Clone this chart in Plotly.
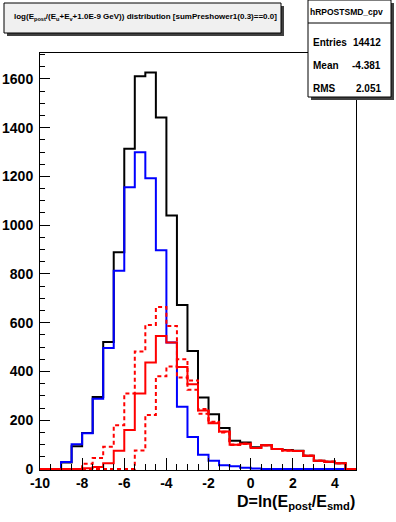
import plotly.graph_objects as go

# ---------------- data ----------------
x_low, x_high, bin_width = -10.0, 5.0, 0.5

total_black = [0, 0, 27, 93, 148, 295, 521, 889, 1313, 1611, 1626, 1442, 1040, 673, 484,
               293, 225, 168, 116, 109, 89, 98, 82, 78, 75, 54, 34, 30, 24, 0]
blue_vals = [0, 0, 29, 102, 147, 288, 496, 813, 1155, 1299, 1192, 897, 519, 255, 131,
             59, 34, 15, 11, 5, 2, 0, 0, 0, 0, 0, 0, 0, 0, 0]
red_solid = [0, 0, 0, 0, 3, 8, 24, 75, 160, 310, 437, 546, 519, 418, 348,
             240, 188, 154, 100, 104, 86, 98, 82, 76, 74, 54, 34, 30, 24, 0]
red_dash_a = [0, 0, 0, 0, 22, 45, 91, 180, 310, 482, 591, 664, 587, 375, 325,
              227, 194, 153, 100, 104, 86, 98, 82, 76, 74, 54, 34, 30, 24, 0]
red_dash_b = [0, 0, 0, 0, 0, 0, 0, 0, 0, 76, 222, 380, 420, 450, 363,
              246, 191, 150, 100, 104, 86, 98, 82, 76, 74, 54, 34, 30, 24, 0]

x_tick_vals = [-10, -8, -6, -4, -2, 0, 2, 4]
y_tick_vals = [0, 200, 400, 600, 800, 1000, 1200, 1400, 1600]

title_text = ("log(E<sub>post</sub>/(E<sub>u</sub>+E<sub>v</sub>+1.0E-9 GeV)) "
              "distribution [sumPreshower1(0.3)==0.0]")
stats_name = "hRPOSTSMD_cpv"
stats_labels = ["Entries", "Mean", "RMS"]
stats_values = ["14412", "-4.381", "2.051"]
x_title = "D=ln(E<sub>post</sub>/E<sub>smd</sub>)"

# ---------------- geometry ----------------
WIDTH, HEIGHT = 396, 522
L, R, T, B = 40, 40, 53, 52
PW, PH = WIDTH - L - R, HEIGHT - T - B
Y_MIN, Y_MAX = -4, 1706

def px_x(px):
    return (px - L) / PW

def px_y(py):
    return (HEIGHT - B - py) / PH

n_bins = len(total_black)
edges = [x_low + i * bin_width for i in range(n_bins + 1)]

def step(vals):
    return edges, list(vals) + [vals[-1]]

FONT = "Liberation Sans, Arial, Helvetica, sans-serif"

fig = go.Figure()

def add_hist(vals, color, dash=None):
    xs, ys = step(vals)
    fig.add_trace(go.Scatter(x=xs, y=ys, mode="lines", line_shape="hv",
                             line=dict(color=color, width=2, dash=dash),
                             hoverinfo="skip", showlegend=False))

add_hist(total_black, "black")
add_hist(blue_vals, "#0000ff")
add_hist(red_dash_a, "#ff0000", "4px,3px")
add_hist(red_dash_b, "#ff0000", "4px,3px")
add_hist(red_solid, "#ff0000")

fig.update_layout(
    width=WIDTH, height=HEIGHT,
    margin=dict(l=L, r=R, t=T, b=B, pad=0, autoexpand=False),
    paper_bgcolor="white", plot_bgcolor="white",
    showlegend=False,
    xaxis=dict(range=[x_low, x_high], tickmode="array", tickvals=x_tick_vals,
               ticktext=[str(v) for v in x_tick_vals], automargin=False,
               ticks="inside", ticklen=12, tickwidth=1, tickcolor="black",
               showline=True, linecolor="black", linewidth=1, mirror=True,
               showgrid=False, zeroline=False, ticklabelstandoff=0,
               tickfont=dict(family=FONT, size=14, color="black", weight="bold"),
               minor=dict(ticks="inside", ticklen=6, dtick=0.5, tick0=-10,
                          tickcolor="black", tickwidth=1, showgrid=False)),
    yaxis=dict(range=[Y_MIN, Y_MAX], tickmode="array", tickvals=y_tick_vals,
               ticktext=[str(v) for v in y_tick_vals], automargin=False,
               ticks="inside", ticklen=10, tickwidth=1, tickcolor="black",
               showline=True, linecolor="black", linewidth=1, mirror=True,
               showgrid=False, zeroline=False, ticklabelstandoff=3,
               tickfont=dict(family=FONT, size=14, color="black", weight="bold"),
               minor=dict(ticks="inside", ticklen=5, dtick=50, tick0=0,
                          tickcolor="black", tickwidth=1, showgrid=False)),
)

shapes = []
# title box with shadow
shapes.append(dict(type="rect", xref="paper", yref="paper",
                   x0=px_x(7), x1=px_x(284), y0=px_y(36), y1=px_y(6),
                   fillcolor="#404040", line=dict(width=0), layer="above"))
shapes.append(dict(type="rect", xref="paper", yref="paper",
                   x0=px_x(4), x1=px_x(281), y0=px_y(33), y1=px_y(3),
                   fillcolor="#f0f0f0", line=dict(color="black", width=1), layer="above"))
# stats box with shadow
shapes.append(dict(type="rect", xref="paper", yref="paper",
                   x0=px_x(311), x1=px_x(394), y0=px_y(100), y1=px_y(3),
                   fillcolor="#404040", line=dict(width=0), layer="above"))
shapes.append(dict(type="rect", xref="paper", yref="paper",
                   x0=px_x(308), x1=px_x(391), y0=px_y(97), y1=px_y(0),
                   fillcolor="white", line=dict(color="black", width=1), layer="above"))
shapes.append(dict(type="line", xref="paper", yref="paper",
                   x0=px_x(308), x1=px_x(391), y0=px_y(23), y1=px_y(23),
                   line=dict(color="black", width=1), layer="above"))
fig.update_layout(shapes=shapes)

ann = []
ann.append(dict(xref="paper", yref="paper", x=px_x(12), y=px_y(17),
                xanchor="left", yanchor="middle", showarrow=False,
                text=title_text,
                font=dict(family=FONT, size=8, color="black", weight="bold")))
ann.append(dict(xref="paper", yref="paper", x=px_x(346), y=px_y(12),
                xanchor="center", yanchor="middle", showarrow=False,
                text=stats_name,
                font=dict(family=FONT, size=8.5, color="black", weight="bold")))
for i, (lab, val) in enumerate(zip(stats_labels, stats_values)):
    yy = 43 + i * 22.5
    ann.append(dict(xref="paper", yref="paper", x=px_x(311), y=px_y(yy),
                    xanchor="left", yanchor="middle", showarrow=False, text=lab,
                    font=dict(family=FONT, size=10, color="black", weight="bold")))
    ann.append(dict(xref="paper", yref="paper", x=px_x(383), y=px_y(yy),
                    xanchor="right", yanchor="middle", showarrow=False, text=val,
                    font=dict(family=FONT, size=10, color="black", weight="bold")))
ann.append(dict(xref="paper", yref="paper", x=px_x(357), y=px_y(502),
                xanchor="right", yanchor="middle", showarrow=False, text=x_title,
                font=dict(family=FONT, size=16, color="black", weight="bold")))
fig.update_layout(annotations=ann)

fig.write_html("out.html", config={"displayModeBar": False},
               post_script="document.body.style.margin='0';"
                           "document.body.style.overflow='hidden';")
